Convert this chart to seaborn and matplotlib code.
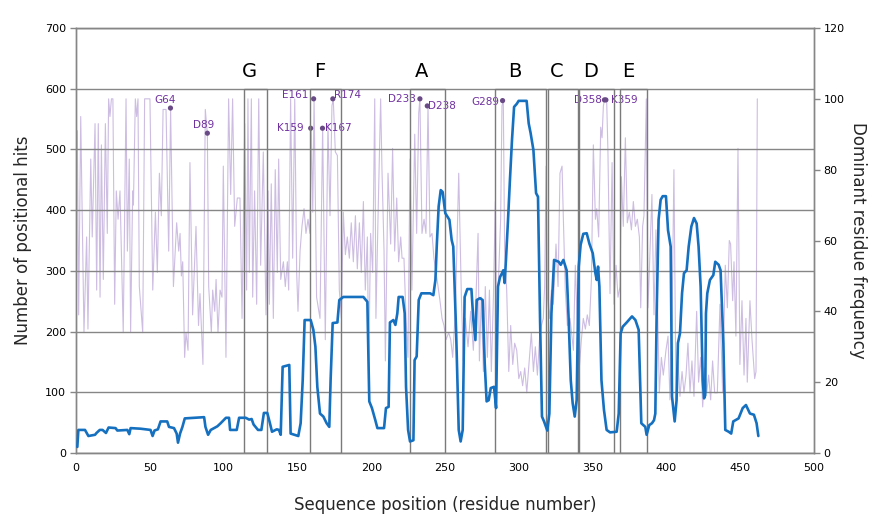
import matplotlib
matplotlib.use('Agg')
import matplotlib.pyplot as plt
import seaborn as sns
import pandas as pd
from matplotlib.patches import Rectangle

# ---- blue series: number of positional hits (left axis) ----
blue_pos = [0.9, 1.6, 6.1, 8.4, 12.9, 13.9, 16.1, 18, 20.3, 22.1, 26.8, 28, 34.8, 36.1, 37, 43.8,
            50.5, 51.9, 53.2, 55.5, 57.3, 61.8, 63, 66.4, 68.2, 69.1, 70.5, 72.1, 73.7, 86.8, 87.7,
            89.5, 91.3, 95.8, 98, 101.6, 103.7, 104.4, 108.9, 110.5, 115, 117.3, 119, 120.3, 123.3,
            125.6, 127.3, 129.6, 131.4, 132.8, 136, 137.5, 138.7, 140, 144.5, 145.4, 150.6, 152.2,
            153.6, 154.9, 159, 160.8, 162.2, 163.5, 165.3, 167.6, 169.8, 171.6, 172.5, 173.9, 177.1,
            178.4, 181.1, 194.7, 197.4, 198.7, 200.5, 202.8, 204.2, 208.7, 210, 211.8, 212.7, 215,
            216.4, 217.7, 218.6, 221.3, 222.7, 223.6, 225, 226.3, 228.6, 229.4, 230.8, 232.2, 234,
            239.9, 242.1, 243.5, 244.4, 245.7, 247.1, 248.4, 250.2, 253, 254.5, 255.6, 257.5, 259.3,
            260.6, 262, 263.3, 265.1, 267.9, 269.2, 270.6, 271.5, 273.7, 275.5, 276.9, 278.2, 279.6,
            281, 283.2, 284.6, 285.9, 287.3, 288.6, 289.5, 290.4, 291.3, 292.7, 294, 295.4, 296.8,
            298.6, 299.9, 305.3, 306.7, 308, 309.9, 311.7, 313, 314.4, 315.7, 317.1, 319.3, 320.7,
            322.1, 323.9, 327, 328.4, 330.2, 332.4, 333.8, 335.2, 336.5, 337.9, 339.2, 340.6, 341.9,
            343.7, 346, 347.8, 350.1, 351.9, 352.8, 353.7, 354.6, 356, 357.7, 359.5, 361.8, 366.3,
            367.7, 369, 370.4, 373.1, 376.7, 379, 381.2, 383, 385.7, 386.6, 388.4, 390.2, 391.6,
            392.5, 393.4, 394.7, 396.1, 397.5, 399.7, 401.1, 402.9, 403.8, 405.6, 406.9, 407.8,
            409.2, 410.6, 411.9, 413.7, 415.1, 416.9, 418.7, 420.5, 421.8, 423.2, 424.6, 425.5,
            426.3, 426.8, 427.7, 429.5, 431.8, 433.1, 435.4, 436.7, 438.6, 439.9, 442.2, 443.9,
            445.3, 448.9, 451.7, 453.9, 456.6, 459.3, 461.1, 462.3]
blue_hits = [10, 38, 38, 28, 30, 33, 38, 38, 33, 42, 41, 37, 38, 31, 41, 40,
             38, 28, 37, 39, 52, 52, 43, 41, 32, 17, 32, 43, 57, 59, 43,
             30, 38, 44, 49, 58, 58, 38, 38, 58, 58, 55, 56, 47, 38,
             38, 66, 66, 49, 35, 39, 38, 30, 142, 145, 32, 28, 49,
             120, 219, 219, 203, 175, 109, 65, 60, 49, 43, 120, 214, 215,
             252, 257, 257, 249, 85, 74, 54, 41, 41, 74, 76, 215, 219,
             211, 230, 257, 257, 230, 109, 38, 19, 21, 153, 159, 252, 263,
             263, 260, 285, 340, 406, 433, 430, 395, 384, 351, 340, 203, 38,
             19, 38, 257, 270, 270, 219, 186, 252, 255, 252, 148, 85, 87,
             107, 109, 74, 274, 290, 296, 301, 280, 318, 384, 450, 516, 570,
             575, 580, 580, 543, 527, 499, 428, 422, 219, 60, 52, 37, 65,
             230, 318, 315, 310, 318, 301, 219, 120, 82, 60, 87, 307, 343,
             361, 362, 345, 329, 296, 285, 307, 274, 120, 71, 38, 34, 35,
             65, 197, 208, 215, 225, 219, 203, 49, 43, 30, 46, 49, 54,
             65, 230, 384, 417, 423, 423, 367, 340, 93, 52, 87, 181,
             197, 263, 296, 301, 340, 373, 387, 378, 340, 274, 120, 90,
             95, 230, 263, 285, 293, 315, 310, 301, 181, 38, 35, 32,
             52, 57, 74, 79, 65, 63, 49, 28]

# ---- purple series: dominant residue frequency (right axis) ----
purple_pos = [0.9, 1.8, 3.2, 5.4, 7.2, 8.1, 10, 11, 12.9, 14, 15.1, 16.3, 17.2, 18.5, 19.9, 21.2,
              22.1, 23, 24, 25, 26.2, 27.3, 28.5, 29.8, 32, 33.9, 34.8, 36.1, 37, 38.4, 38.9, 40.2,
              41.1, 42, 42.9, 45.2, 46.5, 50.1, 52, 53.8, 55.1, 56.5, 57.8, 59, 61, 62.8, 64.1, 66,
              68.2, 69.6, 70.5, 71.4, 72.3, 73.6, 74.5, 75.9, 77.2, 79, 81.3, 83, 84, 86, 87.6, 89,
              89.9, 91.7, 92.6, 94, 94.9, 96.2, 97.6, 98.9, 99.8, 101.6, 103.4, 104.8, 106.1, 107.5,
              109.3, 111.1, 112.5, 114.3, 115.6, 116.5, 117.4, 118.8, 119.7, 121, 122.4, 123.8,
              125.1, 126.9, 128.7, 130.1, 131, 132.3, 133.7, 135, 136.4, 137.3, 138.7, 140.5, 141.8,
              143.2, 144.1, 145.4, 146.8, 148.2, 149.5, 150.4, 151.8, 153.1, 154.5, 155.8, 157.2,
              158.5, 159.4, 160.4, 161.3, 163, 165.3, 167.1, 168.9, 170.7, 172.1, 173.4, 174.3,
              175.7, 177.1, 178.4, 179.8, 181.1, 182.5, 183.8, 185.2, 186.5, 187.9, 189.3, 190.6,
              192, 193.3, 194.7, 196, 197.4, 198.3, 199.6, 201, 202.4, 203.2, 204.6, 206.4, 207.3,
              208.7, 209.6, 211.4, 213.2, 214.5, 215.9, 217.3, 218.6, 220, 220.9, 222.2, 223.6,
              224.9, 226.3, 227.6, 229.5, 230.8, 232.2, 233, 234.4, 235.8, 237.1, 238.5, 239.8,
              241.2, 242.5, 243.9, 245.3, 246.6, 248, 249.3, 250.7, 252.5, 253.9, 255.2, 257, 259.3,
              261.1, 262.4, 263.8, 265.6, 267.4, 269.2, 271, 272.4, 273.3, 274.6, 276, 277.3, 278.7,
              280.1, 281.4, 282.8, 284.1, 285, 286.4, 287.7, 288.6, 289.5, 290.4, 291.8, 293.2,
              294.5, 295.9, 297.2, 298.6, 300, 301.3, 302.6, 304, 305.4, 307.2, 308.5, 309.9, 311.2,
              312.6, 314, 315.3, 316.6, 317.5, 318.5, 319.4, 320.7, 322.1, 323.4, 325.2, 326.6,
              327.9, 329.3, 330.2, 331.5, 332.9, 334.7, 337, 338.3, 339.7, 341, 342.4, 343.7, 345.1,
              346.4, 347.8, 349.2, 350.5, 351.9, 352.8, 354.1, 355.5, 356.4, 357.3, 358.2, 359.5,
              360.4, 361.8, 363.2, 364.5, 365.9, 367.2, 368.6, 369.5, 370.8, 372.2, 373.5, 374.9,
              376.3, 377.6, 379, 380.3, 381.7, 382.6, 383.9, 384.8, 386.4, 387.5, 388.4, 390.2,
              391.6, 392.9, 393.8, 395.2, 396.6, 397.9, 399.7, 401.1, 402.4, 403.8, 405.1, 406.5,
              407.8, 409.2, 410.6, 411.9, 413.3, 414.6, 416, 417.3, 418.7, 420.5, 421.8, 423.2,
              424.6, 425.9, 427.3, 428.6, 430, 431.3, 432.7, 434.5, 436.3, 438.1, 439.9, 441.3,
              442.6, 443.5, 444.9, 445.8, 447.1, 448.5, 449.8, 451.2, 452.6, 453.9, 454.8, 456.6,
              458, 459.8, 460.7, 461.6]
purple_freq = [91, 39, 95, 34, 61, 35, 83, 61, 93, 46, 93, 44, 87, 49, 93, 62,
               100, 95, 100, 100, 42, 74, 66, 74, 34, 100, 57, 83, 34, 74, 70, 100,
               95, 100, 47, 34, 100, 100, 46, 68, 51, 79, 67, 97, 97, 57, 97, 47,
               65, 57, 62, 50, 54, 27, 34, 29, 82, 39, 64, 36, 45, 25, 97, 90,
               47, 34, 46, 40, 49, 34, 46, 44, 81, 27, 100, 73, 100, 64,
               72, 72, 38, 93, 46, 100, 51, 100, 44, 74, 42, 100,
               53, 85, 39, 74, 42, 76, 38, 80, 51, 83, 49, 54, 47,
               54, 46, 100, 55, 100, 51, 40, 57, 64, 69, 62, 66,
               62, 92, 68, 100, 44, 38, 92, 32, 93, 67, 98, 100,
               85, 84, 46, 38, 68, 56, 61, 55, 65, 54, 67, 52,
               65, 51, 71, 46, 61, 24, 62, 51, 100, 38, 66, 100, 80,
               57, 26, 79, 59, 86, 57, 72, 54, 61, 55, 55, 38,
               27, 83, 46, 90, 62, 96, 100, 62, 66, 62, 98, 61,
               62, 55, 51, 47, 43, 38, 36, 32, 34, 32, 27, 40, 79,
               44, 26, 38, 30, 40, 29, 44, 62, 26, 44, 23, 47, 27,
               46, 23, 44, 71, 32, 51, 66, 98, 99.6, 57, 46, 23,
               36, 25, 31, 29, 21, 23, 19, 24, 17, 27, 34, 23, 30,
               22, 32, 36, 38, 47, 81, 44, 38, 46, 42, 59, 47,
               79, 81, 66, 46, 36, 38, 29, 53, 36, 24, 32, 38, 35,
               39, 36, 49, 87, 66, 69, 61, 92, 89, 98, 100, 100,
               85, 45, 82, 42, 53, 44, 47, 78, 64, 89, 65, 68,
               63, 71, 64, 66, 61, 41, 64, 67, 100, 41, 51, 73,
               39, 63, 46, 17, 27, 22, 29, 33, 15, 37, 80, 15,
               26, 16, 23, 17, 22, 31, 17, 26, 16, 40, 20, 27,
               13, 24, 17, 22, 15, 26, 17, 17, 42, 17, 53, 41,
               60, 59, 43, 54, 33, 86, 25, 43, 22, 38, 20, 43,
               32, 21, 23, 100]

# ---- annotated residues (right axis) ----
site_labels = ['G64', 'D89', 'K159', 'E161', 'K167', 'R174', 'D233', 'D238', 'G289', 'D358', 'K359']
site_pos = [64, 89, 159, 161, 167, 174, 233, 238, 289, 358, 359]
site_freq = [97.4, 90.3, 91.7, 100, 91.7, 100, 100, 98, 99.5, 99.7, 99.7]

# ---- boxed regions (left axis) ----
region_labels = ['G', 'F', 'A', 'B', 'C', 'D', 'E']
region_start = [113.8, 158.5, 226.3, 284.2, 319.9, 340.8, 368.9]
region_end = [129.4, 179.5, 250.0, 318.5, 339.9, 364.6, 387.0]
region_top = 600

sns.set_theme(style='white')
plt.rcParams['font.family'] = ['DejaVu Sans']

W, H = 882, 531
fig = plt.figure(figsize=(W / 100, H / 100), dpi=100)
ax = fig.add_axes([76 / W, 1 - 453 / H, (814 - 76) / W, (453 - 28) / H])
ax2 = ax.twinx()
ax.set_zorder(2)
ax2.set_zorder(1)
ax.patch.set_visible(False)

grey = '#868686'
purple_line = '#cdbde2'
site_col = '#7030a0'
blue = '#1670c0'

df_p = pd.DataFrame({'pos': purple_pos, 'freq': purple_freq})
sns.lineplot(data=df_p, x='pos', y='freq', ax=ax2, color=purple_line, lw=0.8,
             sort=False, estimator=None)

df_b = pd.DataFrame({'pos': blue_pos, 'hits': blue_hits})
sns.lineplot(data=df_b, x='pos', y='hits', ax=ax, color=blue, lw=1.9,
             sort=False, estimator=None, zorder=5)

df_s = pd.DataFrame({'pos': site_pos, 'freq': site_freq})
sns.scatterplot(data=df_s, x='pos', y='freq', ax=ax2, color='#6a4a86', s=14,
                edgecolor='none', zorder=6)

offsets = {'G64': (-5, 8), 'D89': (-4, 8), 'K159': (-20, 0), 'E161': (-18, 4),
           'K167': (16, 0), 'R174': (15, 4), 'D233': (-18, 0), 'D238': (15, 0),
           'G289': (-17, -1), 'D358': (-16, 0), 'K359': (18, 0)}
for lab, xp, yp in zip(site_labels, site_pos, site_freq):
    dx, dy = offsets[lab]
    ax2.annotate(lab, (xp, yp), xytext=(dx, dy), textcoords='offset pixels',
                 ha='center', va='center', fontsize=7.5, color=site_col)

for lab, s, e in zip(region_labels, region_start, region_end):
    ax.add_patch(Rectangle((s, 0), e - s, region_top, fill=False, edgecolor='#7a7a7a',
                           lw=1.0, zorder=4))
    ax.text((s + e) / 2 - 4, 628, lab, ha='center', va='center', fontsize=14, color='black')

ax.set_xlim(0, 500)
ax.set_ylim(0, 700)
ax2.set_ylim(0, 120)
ax.set_xticks(range(0, 501, 50))
ax.set_yticks(range(0, 701, 100))
ax2.set_yticks(range(0, 121, 20))

ax.yaxis.grid(True, color=grey, lw=1)
ax.xaxis.grid(False)
ax2.grid(False)

for a in (ax, ax2):
    for sp in a.spines.values():
        sp.set_color(grey)
        sp.set_linewidth(1)
    a.tick_params(direction='out', length=4, width=1, color=grey, labelsize=8,
                  labelcolor='black', pad=3)

ax.set_xlabel('Sequence position (residue number)', fontsize=12)
ax.set_ylabel('Number of positional hits', fontsize=12)
ax2.set_ylabel('Dominant residue frequency', fontsize=12, rotation=270, va='bottom')
ax.xaxis.set_label_coords(0.5, -0.10)
ax.yaxis.set_label_coords(-0.059, 0.5)
ax2.yaxis.set_label_coords(1.048, 0.5)

fig.savefig('out.png', dpi=100)
